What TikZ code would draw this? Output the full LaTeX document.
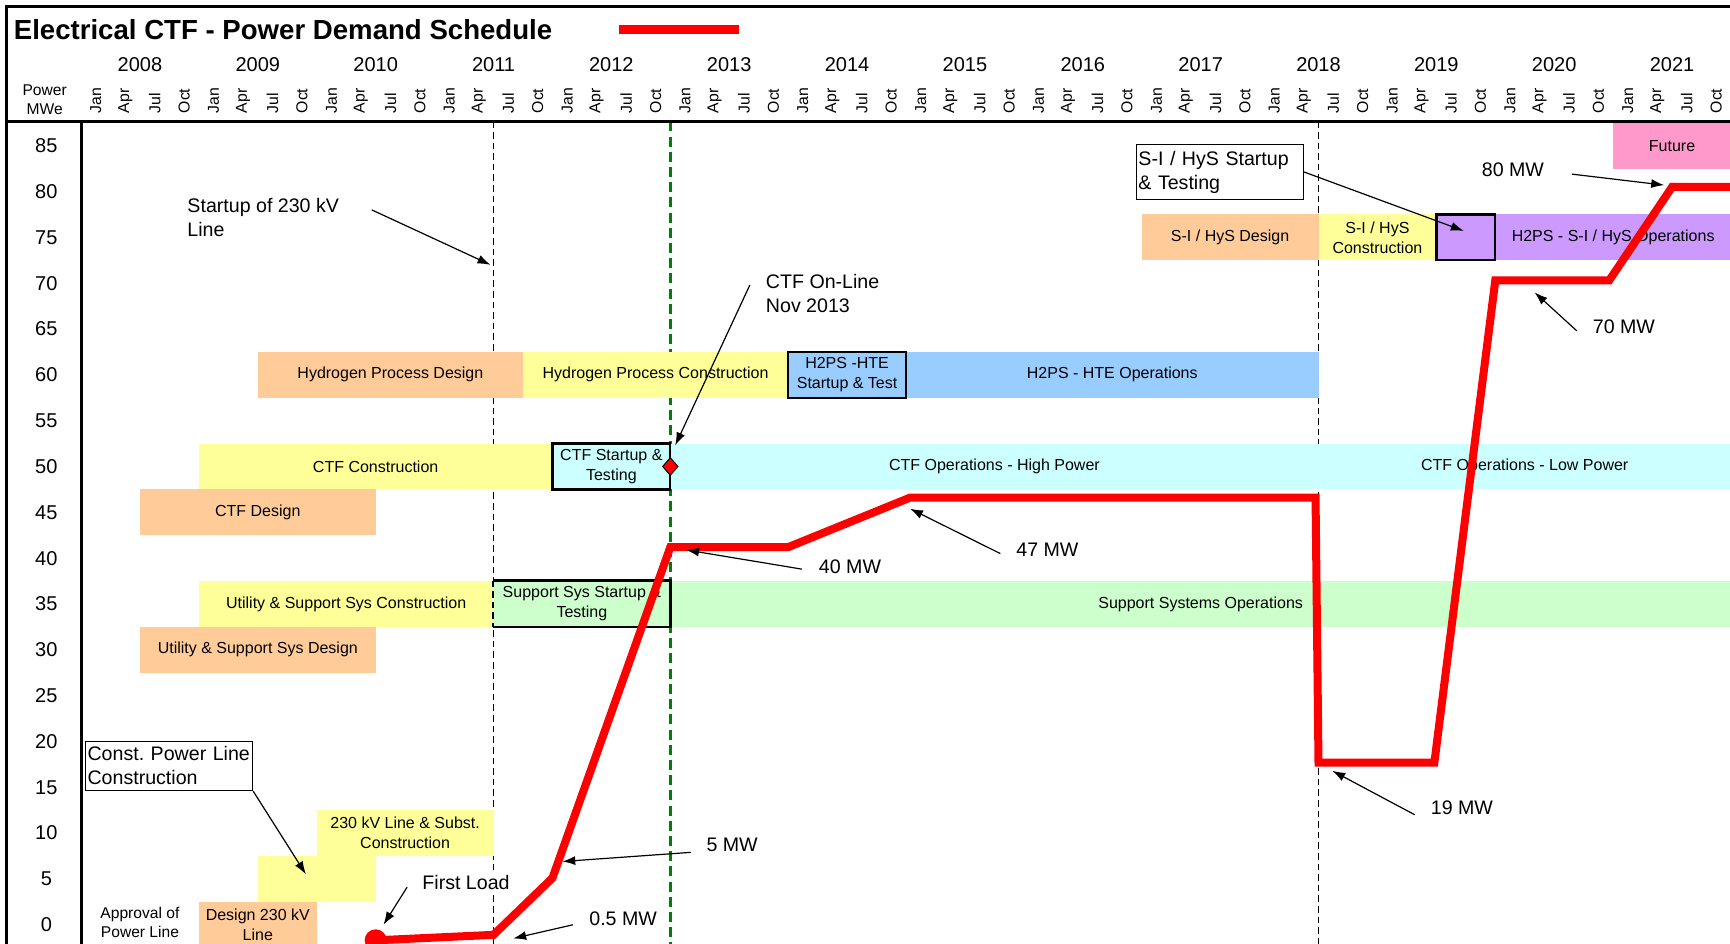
\documentclass[tikz,border=0pt]{standalone}
\usepackage{fontspec}
\setmainfont{Liberation Sans}
\usetikzlibrary{arrows.meta,shapes.geometric}
\definecolor{peach}{RGB}{255,204,153}
\definecolor{lemon}{RGB}{255,255,153}
\definecolor{aqua}{RGB}{204,255,255}
\definecolor{sky}{RGB}{153,204,255}
\definecolor{mint}{RGB}{204,255,204}
\definecolor{lilac}{RGB}{204,153,255}
\definecolor{rose}{RGB}{255,153,204}
\definecolor{online}{RGB}{0,128,0}
\begin{document}
\begin{tikzpicture}[x=4.91pt,y=4.582pt,
  bar/.style={inner sep=0pt,minimum height=22.91pt,align=center,font=\fontsize{8}{10}\selectfont},
  keybar/.style={bar,draw=black,line width=1.2pt},
  lbl/.style={inner sep=0pt,align=left,font=\fontsize{9.8}{12}\selectfont},
  callbox/.style={lbl,draw,fill=white,line width=0.6pt,inner xsep=1pt,text width=81.5pt,anchor=north west},
  callout/.style={-{Latex[length=6.5pt,width=4.5pt]},line width=0.6pt},
  vdash/.style={line width=0.8pt,dash pattern=on 3.3pt off 2pt},
  demand/.style={red,line width=4pt}]
\useasboundingbox (-8.25,-2.01) rectangle (167.9,100.9);
\clip (-8.25,-2.01) rectangle (167.9,100.9);

% milestone lines
\draw[vdash] (42,87.65) -- (42,-2.1);
\draw[vdash] (126,87.65) -- (126,-2.1);
\draw[online,line width=1.4pt,dash pattern=on 5pt off 2.6pt] (60,87.65) -- (60,-2.1);

% schedule bars
\node[bar,fill=rose,minimum width=12*4.91pt] (future) at (162,85) {Future};
\node[bar,fill=peach,minimum width=18*4.91pt] (sides) at (117,75) {S-I / HyS Design};
\node[bar,fill=lemon,minimum width=12*4.91pt] (sicon) at (132,75) {S-I / HyS\\Construction};
\node[bar,fill=lilac,minimum width=24*4.91pt] (siops) at (156,75) {H2PS - S-I / HyS Operations};
\node[bar,fill=peach,minimum width=27*4.91pt] (hpdes) at (31.5,60) {Hydrogen Process Design};
\node[bar,fill=lemon,minimum width=27*4.91pt] (hpcon) at (58.5,60) {Hydrogen Process Construction};
\node[bar,fill=sky,minimum width=42*4.91pt] (hteops) at (105,60) {H2PS - HTE Operations};
\node[bar,fill=lemon,minimum width=36*4.91pt] (ctfcon) at (30,50) {CTF Construction};
\node[bar,fill=aqua,minimum width=66*4.91pt] (ctfhi) at (93,50) {CTF Operations - High Power};
\node[bar,fill=aqua,minimum width=42*4.91pt] (ctflo) at (147,50) {CTF Operations - Low Power};
\node[bar,fill=peach,minimum width=24*4.91pt] (ctfdes) at (18,45) {CTF Design};
\node[bar,fill=lemon,minimum width=30*4.91pt] (uscon) at (27,35) {Utility \& Support Sys Construction};
\node[bar,fill=mint,minimum width=18*4.91pt] (sstest) at (51,35) {Support Sys Startup \&\\Testing};
\node[bar,fill=mint,minimum width=108*4.91pt] (ssops) at (114,35) {Support Systems Operations};
\node[bar,fill=peach,minimum width=24*4.91pt] (usdes) at (18,30) {Utility \& Support Sys Design};
\node[bar,fill=lemon,minimum width=18*4.91pt] (line230) at (33,10) {230 kV Line \& Subst.\\Construction};
\node[bar,fill=lemon,minimum width=12*4.91pt] (plcon) at (24,5) {};
\node[bar,fill=peach,minimum width=12*4.91pt] (des230) at (18,0) {Design 230 kV\\Line};

% startup & test boxes
\node[keybar,fill=lilac,minimum width=6*4.91pt] (sitest) at (141,75) {};
\node[keybar,fill=sky,minimum width=12*4.91pt] (htest) at (78,60) {H2PS -HTE\\Startup \& Test};
\node[keybar,fill=aqua,minimum width=12*4.91pt] (ctfst) at (54,50) {CTF Startup \&\\Testing};
\draw[line width=1.2pt] (sstest.north west) -- (sstest.north east) -- (sstest.south east) -- (sstest.south west);
\draw[vdash] (sstest.north west) -- (sstest.south west);
\node[diamond,draw,fill=red,inner sep=0pt,minimum width=7.8pt,minimum height=9pt,line width=0.5pt] (ctfon) at (60,50) {};

% power demand
\draw[demand] (30,-1.7) -- (42,-1.1) -- (48,5.1) -- (60,41.2) -- (72,41.2) -- (84.4,46.6)
  -- (125.7,46.6) -- (126,17.7) -- (137.8,17.7) -- (144,70.3) -- (155.6,70.3) -- (162,80.5) -- (169,80.5);
\fill[red] (30,-1.7) circle (5.5pt);

% callouts
\node[callbox,minimum height=27.5pt] (sibox) at (107.4,85.2) {S-I / HyS Startup\\\& Testing};
\node[callbox,minimum height=24.7pt] (plbox) at (0.4,20.1) {Const.\ Power Line\\Construction};
\node[lbl,anchor=west] (s230) at (10.8,77.2) {Startup of 230 kV\\Line};
\node[lbl,anchor=west] (ctfol) at (69.7,68.85) {CTF On-Line\\Nov 2013};
\node[lbl] (l80) at (145.8,82.4) {80 MW};
\node[lbl] (l70) at (157.1,65.3) {70 MW};
\node[lbl] (l47) at (98.4,40.9) {47 MW};
\node[lbl] (l40) at (78.3,39.1) {40 MW};
\node[lbl] (l19) at (140.6,12.8) {19 MW};
\node[lbl] (l5) at (66.3,8.7) {5 MW};
\node[lbl] (l05) at (55.2,0.7) {0.5 MW};
\node[lbl,fill=white,inner sep=1pt] (first) at (39.2,4.6) {First Load};
\node[inner sep=0pt,align=center,font=\fontsize{7.8}{9.6}\selectfont] (approval) at (6,0.25) {Approval of\\Power Line};

\coordinate (s230t) at (29.6,78.0);   \coordinate (s230h) at (41.7,72.0);
\coordinate (ctfolt) at (68.1,69.8);  \coordinate (ctfolh) at (60.5,52.3);
\coordinate (sih) at (140.8,75.7);
\coordinate (l80t) at (151.8,81.9);   \coordinate (l80h) at (161.2,80.7);
\coordinate (l70t) at (152.3,64.8);   \coordinate (l70h) at (148.0,69.0);
\coordinate (l47t) at (93.6,40.5);    \coordinate (l47h) at (84.4,45.4);
\coordinate (l40t) at (73.4,38.8);    \coordinate (l40h) at (61.6,40.9);
\coordinate (l19t) at (135.8,12.0);   \coordinate (l19h) at (127.4,16.8);
\coordinate (l5t) at (62.1,7.9);      \coordinate (l5h) at (49.0,6.9);
\coordinate (l05t) at (50.1,0.0);     \coordinate (l05h) at (44.0,-1.5);
\coordinate (firstt) at (33.2,4.1);   \coordinate (firsth) at (30.8,0.0);
\coordinate (plh) at (22.9,5.5);
\draw[callout] (s230t) -- (s230h);
\draw[callout] (ctfolt) -- (ctfolh);
\draw[callout] (sibox.east) -- (sih);
\draw[callout] (l80t) -- (l80h);
\draw[callout] (l70t) -- (l70h);
\draw[callout] (l47t) -- (l47h);
\draw[callout] (l40t) -- (l40h);
\draw[callout] (l19t) -- (l19h);
\draw[callout] (l5t) -- (l5h);
\draw[callout] (l05t) -- (l05h);
\draw[callout] (firstt) -- (firsth);
\draw[callout] (plbox.south east) -- (plh);

% header
\node[anchor=west,inner sep=0pt,font=\fontsize{13.8}{16}\selectfont\bfseries] (title) at (-6.88,97.65) {Electrical CTF - Power Demand Schedule};
\draw[red,line width=4.5pt] (54.8,97.65) -- (67,97.65);
\node[inner sep=0pt,align=center,font=\fontsize{7.8}{9.6}\selectfont] (unit) at (-3.7,90.05) {Power\\MWe};
\foreach \yr [count=\i from 0] in {2008,...,2021}
  \node[font=\fontsize{10}{12}\selectfont] (yr\yr) at (12*\i+6,93.9) {\yr};
\foreach \i in {0,...,13}
  \foreach \mo [count=\k from 0] in {Jan,Apr,Jul,Oct}
    \node[rotate=90,anchor=west,inner sep=0pt,font=\fontsize{7.9}{9}\selectfont] (mo\i-\k) at (12*\i+3*\k+1.5,88.5) {\mo};
\foreach \v in {0,5,...,85}
  \node[font=\fontsize{10}{12}\selectfont] (tick\v) at (-3.53,\v) {\v};

% frame
\draw[line width=1.5pt] (-7.6,-2.1) -- (-7.6,100.2) -- (169,100.2);
\draw[line width=1.5pt] (-7.6,87.65) -- (169,87.65);
\draw[line width=1.5pt] (0,87.65) -- (0,-2.1);
\end{tikzpicture}
\end{document}
